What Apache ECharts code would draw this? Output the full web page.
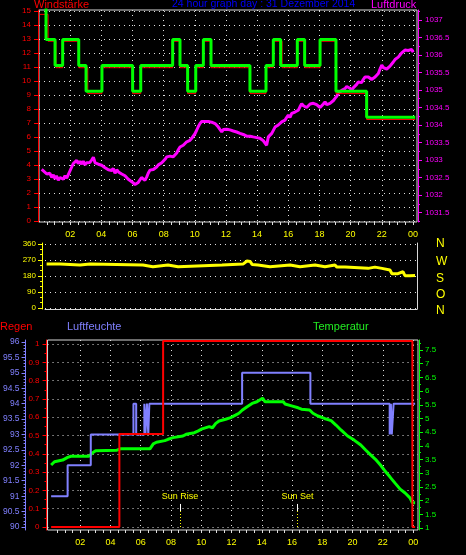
<!DOCTYPE html>
<html><head><meta charset="utf-8">
<script src="https://cdn.jsdelivr.net/npm/echarts@6/dist/echarts.min.js"></script>
<style>html,body{margin:0;padding:0;background:#000}#c{width:466px;height:555px}</style>
</head><body><div id="c"></div>
<script>
// ---------------- DATA ----------------
var titleText = '24 hour graph day : 31 Dezember 2014';
var hourLabels = [2,4,6,8,10,12,14,16,18,20,22,24];

// Wind (km/h) - gusts (green) and average (red), stepped
var windGustHours = [0,0.45,1.03,1.52,2.55,3.02,4.04,6.01,6.53,8.58,9.05,9.54,10.06,10.55,11.04,13.54,14.57,15.04,15.51,16.58,17.05,18.04,19.06,21.03,24.15];
var windGust      = [16.67,12.96,11.11,12.96,11.11,9.26,11.11,9.26,11.11,12.96,11.11,9.26,11.11,12.96,11.11,9.26,11.11,12.96,11.11,12.96,11.11,12.96,9.26,7.41,7.41];
var windAvgHours  = [0.05,0.58,1.09,1.52,2.55,3.13,4.04,6.01,6.53,8.58,9.05,9.54,10.06,10.55,11.04,13.54,14.57,15.04,15.6,16.58,17.05,18.04,19.06,21.03,24.15];
var windAvg       = [14.76,12.84,10.95,12.84,10.95,9.1,10.95,9.1,10.95,12.84,10.95,9.1,10.95,12.84,10.95,9.1,10.95,12.84,10.95,12.84,10.95,12.84,9.1,7.25,7.25];
var windTicks = [0,1,2,3,4,5,6,7,8,9,10,11,12,13,14,15];

// Pressure (hPa)
var pressHours = [0.17,0.30,0.39,0.50,0.60,0.70,0.82,0.92,1.03,1.12,1.24,1.35,1.46,1.56,1.67,1.78,1.88,2.00,2.10,2.20,2.30,2.42,2.52,2.63,2.74,2.84,2.95,3.06,3.17,3.27,3.38,3.49,3.60,3.70,3.81,3.92,4.02,4.13,4.24,4.35,4.45,4.56,4.67,4.77,4.88,4.99,5.10,5.20,5.31,5.41,5.52,5.63,5.73,5.84,5.95,6.05,6.16,6.27,6.37,6.48,6.58,6.69,6.80,6.91,7.01,7.12,7.23,7.34,7.45,7.55,7.66,7.77,7.88,7.98,8.09,8.20,8.30,8.41,8.52,8.62,8.73,8.84,8.95,9.05,9.16,9.26,9.37,9.48,9.58,9.69,9.80,9.90,10.01,10.12,10.22,10.33,10.44,10.55,10.65,10.76,10.87,10.98,11.08,11.19,11.30,11.41,11.51,11.62,11.73,11.83,11.94,12.05,12.15,12.26,12.37,12.47,12.58,12.69,12.80,12.90,13.01,13.11,13.22,13.33,13.43,13.54,13.65,13.75,13.86,13.97,14.07,14.18,14.29,14.40,14.50,14.61,14.72,14.83,14.94,15.04,15.15,15.26,15.36,15.47,15.58,15.68,15.79,15.90,16.00,16.11,16.22,16.32,16.43,16.54,16.64,16.75,16.86,16.97,17.07,17.18,17.29,17.40,17.50,17.61,17.72,17.82,17.93,18.04,18.15,18.25,18.36,18.47,18.57,18.68,18.79,18.90,19.00,19.11,19.21,19.32,19.43,19.53,19.64,19.75,19.85,19.96,20.07,20.17,20.28,20.39,20.49,20.60,20.71,20.81,20.92,21.03,21.14,21.24,21.35,21.46,21.57,21.67,21.78,21.89,22.00,22.10,22.21,22.32,22.42,22.53,22.64,22.74,22.85,22.96,23.06,23.17,23.28,23.38,23.49,23.60,23.70,23.81,23.92,24.02];
var pressValues = [1032.73,1032.68,1032.71,1032.60,1032.56,1032.62,1032.50,1032.58,1032.46,1032.55,1032.42,1032.50,1032.52,1032.45,1032.55,1032.48,1032.58,1032.70,1032.80,1032.90,1032.86,1032.99,1032.90,1032.96,1032.88,1032.97,1032.86,1032.92,1032.88,1032.93,1033.00,1033.08,1032.92,1032.94,1032.88,1032.92,1032.85,1032.86,1032.78,1032.80,1032.72,1032.75,1032.70,1032.76,1032.62,1032.72,1032.66,1032.66,1032.60,1032.62,1032.55,1032.52,1032.45,1032.42,1032.38,1032.34,1032.30,1032.31,1032.36,1032.33,1032.50,1032.52,1032.42,1032.51,1032.62,1032.71,1032.70,1032.73,1032.78,1032.80,1032.86,1032.90,1032.92,1032.97,1033.02,1033.09,1033.06,1033.11,1033.08,1033.09,1033.14,1033.20,1033.30,1033.37,1033.34,1033.42,1033.46,1033.52,1033.50,1033.56,1033.62,1033.66,1033.75,1033.85,1033.95,1034.04,1034.10,1034.12,1034.10,1034.13,1034.10,1034.14,1034.08,1034.09,1034.04,1034.00,1033.94,1033.90,1033.80,1033.87,1033.92,1033.88,1033.93,1033.86,1033.88,1033.83,1033.86,1033.80,1033.78,1033.76,1033.80,1033.73,1033.75,1033.68,1033.72,1033.68,1033.70,1033.66,1033.69,1033.64,1033.66,1033.62,1033.60,1033.55,1033.52,1033.42,1033.66,1033.70,1033.76,1033.80,1033.94,1033.90,1034.00,1033.95,1034.09,1034.06,1034.14,1034.22,1034.28,1034.22,1034.33,1034.30,1034.37,1034.33,1034.42,1034.52,1034.61,1034.55,1034.56,1034.50,1034.54,1034.60,1034.56,1034.62,1034.66,1034.58,1034.56,1034.50,1034.45,1034.60,1034.66,1034.58,1034.56,1034.62,1034.66,1034.70,1034.76,1034.82,1034.90,1034.94,1034.99,1035.02,1035.04,1035.10,1035.14,1035.05,1034.99,1035.06,1035.09,1035.16,1035.23,1035.18,1035.21,1035.30,1035.37,1035.34,1035.37,1035.33,1035.30,1035.34,1035.37,1035.42,1035.47,1035.60,1035.71,1035.64,1035.66,1035.60,1035.61,1035.68,1035.71,1035.80,1035.87,1035.90,1035.94,1036.00,1036.06,1036.10,1036.14,1036.10,1036.13,1036.18,1036.16,1036.08];
var pressTicks = [1031.5,1032,1032.5,1033,1033.5,1034,1034.5,1035,1035.5,1036,1036.5,1037];

// Wind direction (degrees)
var dirHours = [0.08,0.95,1.08,2.26,2.91,3.04,6.37,6.5,7.02,7.15,8.0,8.13,8.66,8.79,11.53,11.66,12.9,13.03,13.16,13.36,13.49,13.88,14.01,14.66,14.79,15.97,16.1,16.62,16.75,17.6,17.73,18.25,18.38,18.9,19.03,19.56,19.69,21.06,21.19,21.51,21.64,21.97,22.1,22.49,22.62,23.01,23.14,23.34,23.47,23.79,23.92,24.13];
var dirValues = [247,247,242,242,247,242,242,232,232,242,242,232,232,242,242,247,247,258,264,262,245,242,232,232,242,242,232,232,242,242,232,232,242,242,230,230,223,223,230,230,223,223,214,214,193,193,204,204,182,182,183,183];
var dirTicks = [0,90,180,270,360];
var compassLetters = ['N','W','S','O','N'];

// Rain (mm), stepped
var rainHours = [0.08,4.59,7.48,23.95,24.13];
var rainValues = [0,0.508,1.016,0,0];
var rainTicks = [0,0.1,0.2,0.3,0.4,0.5,0.6,0.7,0.8,0.9,1];

// Humidity (%), stepped
var humHours = [0.08,1.17,2.7,5.52,5.7,6.24,6.31,6.41,6.5,6.57,12.7,17.21,22.45,22.53,22.59,22.71,24.13];
var humValues = [91,92,93,94,93,94,93,94,93,94,95,94,93,94,93,94,94];
var humTicks = [90,90.5,91,91.5,92,92.5,93,93.5,94,94.5,95,95.5,96];

// Temperature (°C)
var tempHours = [0.08,0.3,0.84,0.95,1.17,1.39,2.58,2.8,3.02,4.43,4.65,6.61,6.83,7.04,7.59,7.81,8.13,8.79,9.0,9.55,9.77,10.05,10.53,10.74,10.96,11.18,11.61,11.94,12.26,12.49,12.7,13.03,13.36,13.68,14.05,14.22,15.42,15.53,15.97,16.4,16.62,17.16,17.38,17.71,18.14,18.58,18.9,19.23,19.67,20.1,20.54,20.86,21.19,21.51,21.84,22.17,22.49,22.82,23.14,23.47,23.79,23.95,24.13];
var tempValues = [3.30,3.42,3.48,3.52,3.58,3.62,3.62,3.74,3.82,3.84,3.89,3.89,4.07,4.13,4.19,4.24,4.30,4.36,4.42,4.48,4.54,4.62,4.70,4.66,4.82,4.91,4.97,5.03,5.12,5.19,5.30,5.43,5.55,5.61,5.74,5.61,5.61,5.53,5.46,5.39,5.34,5.31,5.19,5.09,5.00,4.92,4.76,4.58,4.36,4.21,4.03,3.85,3.67,3.51,3.30,3.06,2.85,2.63,2.42,2.28,2.10,1.92,1.92];
var tempTicks = [1,1.5,2,2.5,3,3.5,4,4.5,5,5.5,6,6.5,7,7.5];

// Sun events
var sunNames = ['Sun Rise','Sun Set'];
var sunHours = [8.59,16.36];

// ---------------- CHART ----------------
function zip(a,b){return a.map(function(v,i){return [v,b[i]];});}
function steps(a,b,s){var r=[];for(var v=a;v<=b+1e-9;v+=s){r.push(Math.round(v*1000)/1000);}return r;}
var FONT = 'Liberation Sans';
var dotted = {show:true,lineStyle:{color:'#e0e0e0',width:1,type:[1,4]}};
var hourFmt = function(v){var h=Math.round(v)%24;return (h<10?'0':'')+h;};

function xMain(grid,min,max,showLabels,split){
  return {type:'value',gridIndex:grid,min:min,max:max,position:'bottom',
    axisLine:{show:false,onZero:false},
    axisTick:{show:false,customValues:hourLabels},
    axisLabel:{show:showLabels,customValues:hourLabels,formatter:hourFmt,color:'#ffff00',fontSize:9,fontFamily:FONT,margin:8},
    splitLine:split?dotted:{show:false}};
}
function xMinor(grid,min,max){
  return {type:'value',gridIndex:grid,min:min,max:max,position:'bottom',
    axisLine:{show:false,onZero:false},
    axisTick:{show:true,customValues:steps(0.5,24,0.5),length:3,lineStyle:{color:'#e0e0e0'}},
    axisLabel:{show:false},splitLine:{show:false}};
}
function yAxisMain(o){
  return {type:'value',gridIndex:o.grid,position:o.pos,offset:o.offset||0,min:o.min,max:o.max,
    axisLine:{show:true,onZero:false,lineStyle:{color:o.color,width:1}},
    axisTick:{show:true,customValues:o.ticks,length:o.tickLen||4,lineStyle:{color:o.color}},
    axisLabel:{show:true,customValues:o.ticks,color:o.color,fontSize:o.fs||8,fontFamily:FONT,margin:o.margin||7,
      formatter:o.fmt||function(v){return String(v);}},
    splitLine:o.split?dotted:{show:false}};
}
function yMinor(o){
  return {type:'value',gridIndex:o.grid,position:o.pos,offset:o.offset||0,min:o.min,max:o.max,
    axisLine:{show:false,onZero:false},
    axisTick:{show:true,customValues:o.ticks,length:2,lineStyle:{color:o.color}},
    axisLabel:{show:false},splitLine:{show:false}};
}

var windMin=-1/14, windMax=15+1/14;
var pMin=1037-202/35, pMax=1037+10/35;
var dMin=-360/64, dMax=360+360/64;
var rMin=-3/183, rMax=1+4/183;
var hMin=90-3/30.83, hMax=96+2/30.83;
var tMin=1-2/27.385, tMax=7.5+10/27.385;
var x2min=-(45.4-43)/15.32, x2max=(418-45.4)/15.32;
var x1min=-(45.4-45)/15.32, x1max=(417-45.4)/15.32;

var sunMarks = [];
sunNames.forEach(function(n,i){
  var h=sunHours[i];
  sunMarks.push([{coord:[h,0],lineStyle:{color:'#ffff00',type:[1,2],width:1},label:{show:false}},
                 {coord:[h,0.087],lineStyle:{color:'#ffff00',type:[1,2],width:1},label:{show:false}}]);
  sunMarks.push([{coord:[h,0.087],lineStyle:{color:'#ffffff',type:'solid',width:1},label:{show:true,formatter:n,position:'end',color:'#ffff00',fontSize:9,fontFamily:FONT,distance:3}},
                 {coord:[h,0.126],lineStyle:{color:'#ffffff',type:'solid',width:1},label:{show:true,formatter:n,position:'end',color:'#ffff00',fontSize:9,fontFamily:FONT,distance:3}}]);
});

var tStyle = function(c,fs){return {color:c,fontSize:fs||11,fontWeight:'normal',fontFamily:FONT};};
var chart = echarts.init(document.getElementById('c'),null,{renderer:'canvas'});
chart.setOption({
  backgroundColor:'#000000',
  animation:false,
  title:[
    {text:'Windstärke',left:34,top:-1,padding:0,textStyle:tStyle('#ff0000')},
    {text:titleText,left:172,top:-1,padding:0,textStyle:tStyle('#0000ff',10.5)},
    {text:'Luftdruck',left:371,top:-1,padding:0,textStyle:tStyle('#ff00ff')},
    {text:'Regen',left:0,top:321,padding:0,textStyle:tStyle('#ff0000')},
    {text:'Luftfeuchte',left:67,top:321,padding:0,textStyle:tStyle('#8080ff')},
    {text:'Temperatur',left:313,top:321,padding:0,textStyle:tStyle('#22ee22')}
  ],
  graphic: compassLetters.map(function(l,i){
    return {type:'text',left:436,top:[238,256,273,289,305][i],style:{text:l,fill:'#ffff00',font:'12px '+FONT}};
  }),
  grid:[
    {left:39,top:10,width:378,height:212,show:true,borderColor:'#d8d8d8',borderWidth:1,backgroundColor:'transparent'},
    {left:45,top:243,width:372,height:66,show:false},
    {left:43,top:340,width:375,height:190,show:true,borderColor:'#d8d8d8',borderWidth:1,backgroundColor:'transparent'}
  ],
  xAxis:[
    xMain(0,0,(417-39)/15.58,true,true),
    xMinor(0,0,(417-39)/15.58),
    {type:'value',gridIndex:1,min:x1min,max:x1max,position:'bottom',axisLine:{show:true,onZero:false,lineStyle:{color:'#d8d8d8'}},axisTick:{show:false},axisLabel:{show:false},splitLine:{show:false}},
    xMain(2,x2min,x2max,true,true),
    xMinor(2,x2min,x2max)
  ],
  yAxis:[
    yAxisMain({grid:0,pos:'left',offset:1,min:windMin,max:windMax,color:'#ff0000',ticks:windTicks,split:true,margin:7}),
    yAxisMain({grid:0,pos:'right',offset:1,min:pMin,max:pMax,color:'#ff00ff',ticks:pressTicks,margin:7}),
    yMinor({grid:0,pos:'right',offset:1,min:pMin,max:pMax,color:'#ff00ff',ticks:steps(1031.25,1037.25,0.25)}),
    yAxisMain({grid:1,pos:'left',offset:3,min:dMin,max:dMax,color:'#ffff00',ticks:dirTicks,split:true,margin:6}),
    yMinor({grid:1,pos:'left',offset:3,min:dMin,max:dMax,color:'#ffff00',ticks:steps(0,360,30)}),
    {type:'value',gridIndex:1,position:'right',min:dMin,max:dMax,axisLine:{show:true,onZero:false,lineStyle:{color:'#d8d8d8'}},axisTick:{show:false},axisLabel:{show:false},splitLine:{show:false}},
    yAxisMain({grid:2,pos:'left',offset:1,min:rMin,max:rMax,color:'#ff0000',ticks:rainTicks,split:true,margin:7}),
    yMinor({grid:2,pos:'left',offset:1,min:rMin,max:rMax,color:'#ff0000',ticks:steps(0,1,0.05)}),
    yAxisMain({grid:2,pos:'left',offset:22,min:hMin,max:hMax,color:'#8080ff',ticks:humTicks,margin:6,fs:8.5}),
    yMinor({grid:2,pos:'left',offset:22,min:hMin,max:hMax,color:'#8080ff',ticks:steps(90,96,0.1)}),
    yAxisMain({grid:2,pos:'right',offset:1,min:tMin,max:tMax,color:'#00ff00',ticks:tempTicks,margin:6}),
    yMinor({grid:2,pos:'right',offset:1,min:tMin,max:tMax,color:'#00ff00',ticks:steps(1,7.75,0.25)})
  ],
  series:[
    {type:'line',xAxisIndex:0,yAxisIndex:1,data:zip(pressHours,pressValues),showSymbol:false,lineStyle:{color:'#ff00ff',width:3},z:2},
    {type:'line',xAxisIndex:0,yAxisIndex:0,data:zip(windAvgHours,windAvg),step:'end',showSymbol:false,lineStyle:{color:'#ff0000',width:1},z:3},
    {type:'line',xAxisIndex:0,yAxisIndex:0,data:zip(windGustHours,windGust),step:'end',showSymbol:false,lineStyle:{color:'#00ff00',width:3},z:4},
    {type:'line',xAxisIndex:2,yAxisIndex:3,data:zip(dirHours,dirValues),showSymbol:false,lineStyle:{color:'#ffff00',width:3},z:3},
    {type:'line',xAxisIndex:3,yAxisIndex:10,data:zip(tempHours,tempValues),showSymbol:false,lineStyle:{color:'#00ff00',width:3},z:2},
    {type:'line',xAxisIndex:3,yAxisIndex:8,data:zip(humHours,humValues),step:'end',showSymbol:false,lineStyle:{color:'#8080ff',width:2},z:3},
    {type:'line',xAxisIndex:3,yAxisIndex:6,data:zip(rainHours,rainValues),step:'end',showSymbol:false,lineStyle:{color:'#ff0000',width:2},z:4,
      markLine:{silent:true,symbol:['none','none'],animation:false,data:sunMarks}}
  ]
});
</script>
</body></html>
